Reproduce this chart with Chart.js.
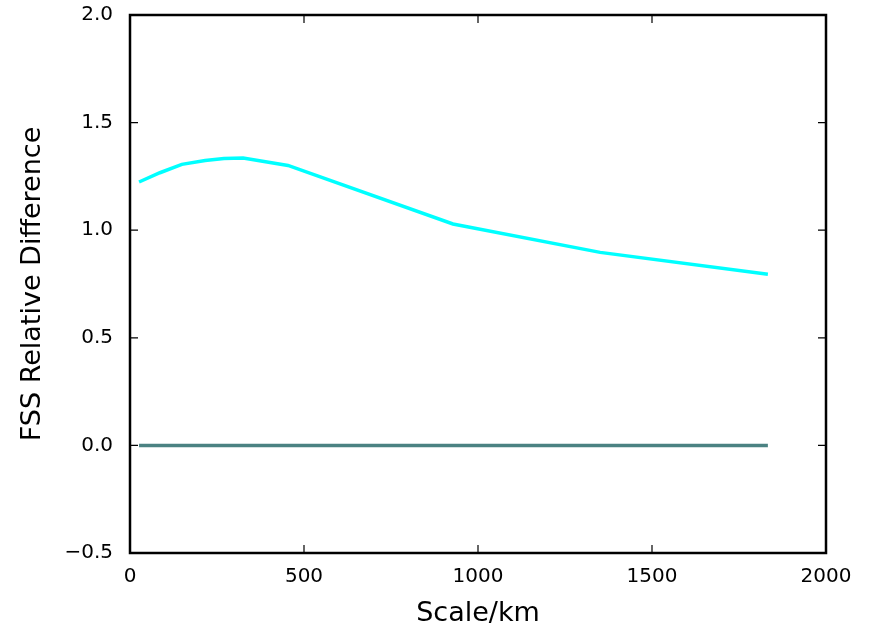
<!DOCTYPE html>
<html>
<head>
<meta charset="utf-8">
<script src="https://cdn.jsdelivr.net/npm/chart.js@4/dist/chart.umd.min.js"></script>
<style>
  body { margin: 0; background: #fff; }
</style>
</head>
<body>
<canvas id="fssChart" width="869" height="630"></canvas>
<script>
// values
const scaleKm = [26, 86, 149, 216, 270, 325, 454, 928, 1351, 1833];
const fssDiff = [1.224, 1.267, 1.306, 1.324, 1.333, 1.335, 1.301, 1.029, 0.897, 0.795];
const fssBase = [0, 0, 0, 0, 0, 0, 0, 0, 0, 0];
const xTicks = [0, 500, 1000, 1500, 2000];
const yTicks = [-0.5, 0.0, 0.5, 1.0, 1.5, 2.0];

const toPoints = (xs, ys) => xs.map((x, i) => ({ x: x, y: ys[i] }));

// matplotlib-classic style frame: black box + inward ticks on every side
const frame = {
  id: 'frame',
  afterDraw(chart) {
    const { ctx, chartArea: a, scales } = chart;
    const len = 8;
    ctx.save();
    ctx.strokeStyle = '#000';
    ctx.lineWidth = 1.2;
    scales.x.ticks.forEach(t => {
      const px = scales.x.getPixelForValue(t.value);
      ctx.beginPath();
      ctx.moveTo(px, a.bottom); ctx.lineTo(px, a.bottom - len);
      ctx.moveTo(px, a.top); ctx.lineTo(px, a.top + len);
      ctx.stroke();
    });
    scales.y.ticks.forEach(t => {
      const py = scales.y.getPixelForValue(t.value);
      ctx.beginPath();
      ctx.moveTo(a.left, py); ctx.lineTo(a.left + len, py);
      ctx.moveTo(a.right, py); ctx.lineTo(a.right - len, py);
      ctx.stroke();
    });
    ctx.lineWidth = 2.5;
    ctx.strokeRect(a.left, a.top, a.right - a.left, a.bottom - a.top);
    ctx.restore();
  }
};

const fmt = v => v.toFixed(1).replace('-', '\u2212');

new Chart(document.getElementById('fssChart'), {
  type: 'line',
  data: {
    datasets: [
      {
        label: 'base',
        data: toPoints(scaleKm, fssBase),
        borderColor: '#4b8282',
        borderWidth: 3.5,
        pointRadius: 0,
        tension: 0
      },
      {
        label: 'diff',
        data: toPoints(scaleKm, fssDiff),
        borderColor: '#00ffff',
        borderWidth: 3.5,
        pointRadius: 0,
        tension: 0
      }
    ]
  },
  options: {
    responsive: false,
    animation: false,
    layout: { padding: { top: 15, right: 43, left: 0, bottom: 0 } },
    plugins: {
      legend: { display: false },
      tooltip: { enabled: false }
    },
    scales: {
      x: {
        type: 'linear',
        min: 0,
        max: 2000,
        afterBuildTicks: s => { s.ticks = xTicks.map(v => ({ value: v })); },
        afterFit: s => { s.height = 77; s.paddingLeft = 0; s.paddingRight = 0; },
        grid: { display: false, drawTicks: false },
        border: { display: false },
        ticks: {
          padding: 12,
          color: '#000',
          font: { family: 'DejaVu Sans', size: 20 },
          callback: v => String(v)
        },
        title: {
          display: true,
          text: 'Scale/km',
          color: '#000',
          font: { family: 'DejaVu Sans', size: 27 },
          padding: { top: 4, bottom: 0 }
        }
      },
      y: {
        type: 'linear',
        min: -0.5,
        max: 2.0,
        afterBuildTicks: s => { s.ticks = yTicks.map(v => ({ value: v })); },
        afterFit: s => { s.width = 130; s.paddingTop = 0; s.paddingBottom = 0; },
        grid: { display: false, drawTicks: false },
        border: { display: false },
        ticks: {
          padding: 17,
          color: '#000',
          font: { family: 'DejaVu Sans', size: 20 },
          callback: v => fmt(v)
        },
        title: {
          display: true,
          text: 'FSS Relative Difference',
          color: '#000',
          font: { family: 'DejaVu Sans', size: 27 },
          padding: { top: 17, bottom: 0 }
        }
      }
    }
  },
  plugins: [frame]
});
</script>
</body>
</html>
